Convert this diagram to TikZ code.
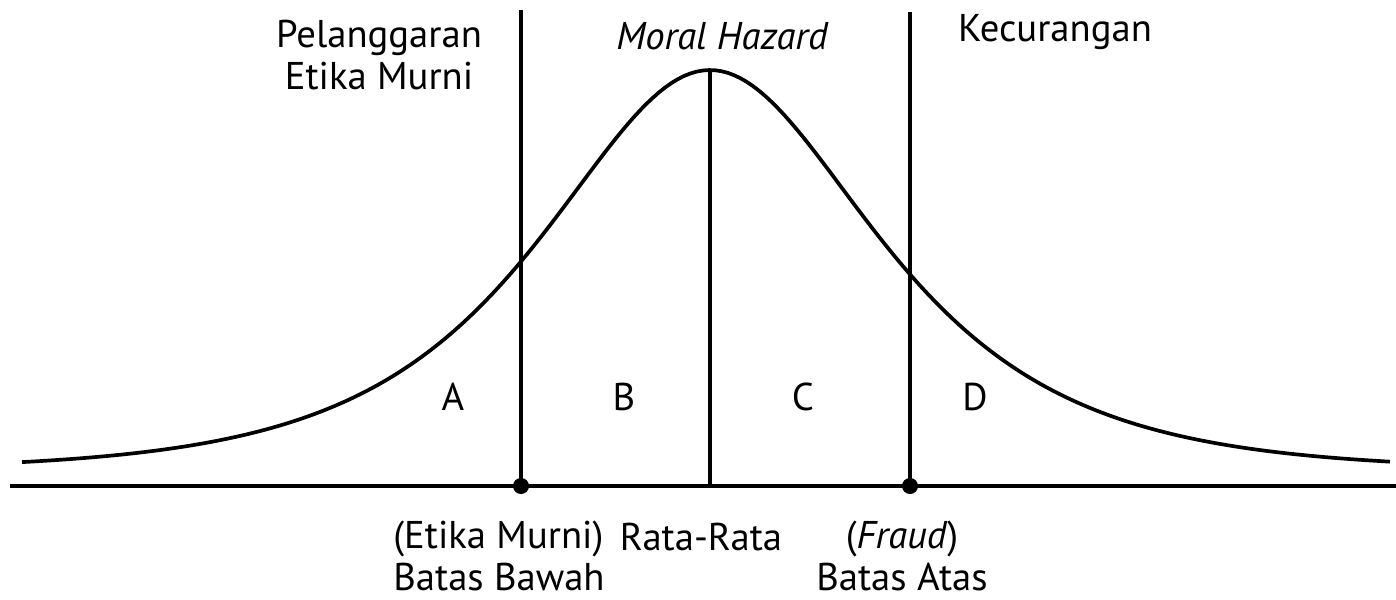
\documentclass[tikz,border=0pt]{standalone}
\usepackage{fontspec}
\setmainfont{PT Sans}
\usetikzlibrary{calc}

\begin{document}
\begin{tikzpicture}[x=0.01cm, y=-0.01cm,
  lbl/.style={font=\fontsize{11}{12}\selectfont, inner sep=0pt},
  bound/.style={line width=1.15pt},
  curve/.style={line width=1.05pt},
  dot/.style={circle, fill=black, inner sep=0pt, minimum size=0.16cm}]

\useasboundingbox (0,0) rectangle (1396,600);

% axis ends and the three limits: lower, mean, upper
\coordinate (axL) at (10,486);
\coordinate (axR) at (1396,486);
\coordinate (lo) at (521,486);
\coordinate (mid) at (710,486);
\coordinate (hi) at (910,486);
\coordinate (loTop) at (521,10);
\coordinate (midTop) at (710,70);
\coordinate (hiTop) at (910,12);

% bell curve: peak at x=710, tails flatten toward y=470
\draw[curve] plot[domain=22:1390, samples=220] (\x, {470-400/cosh((\x-710)/149)});

% axis and limit lines
\draw[bound] (axL) -- (axR);
\draw[bound] (lo) -- (loTop);
\draw[bound] (mid) -- (midTop);
\draw[bound] (hi) -- (hiTop);

% points on the axis
\node[dot] (loDot) at (lo) {};
\node[dot] (hiDot) at (hi) {};

% ---- regions above ----
\node[lbl, align=center] (pelanggaran) at (379,55) {Pelanggaran\\Etika Murni};
\node[lbl, font=\fontsize{11}{12}\selectfont\itshape] (moral) at (722,36) {Moral Hazard};
\node[lbl] (kecurangan) at (1055,32) {Kecurangan};

% ---- areas under the curve ----
\node[lbl] (areaA) at (453,397) {A};
\node[lbl] (areaB) at (624,397) {B};
\node[lbl] (areaC) at (803,397) {C};
\node[lbl] (areaD) at (975,397) {D};

% ---- labels below the axis ----
\node[lbl, align=left] (batasBawah) at (499,556) {(Etika Murni)\\Batas Bawah};
\node[lbl] (rata) at (701,537) {Rata-Rata};
\node[lbl, align=center] (batasAtas) at (902,556) {(\textit{Fraud})\\Batas Atas};

\end{tikzpicture}
\end{document}
